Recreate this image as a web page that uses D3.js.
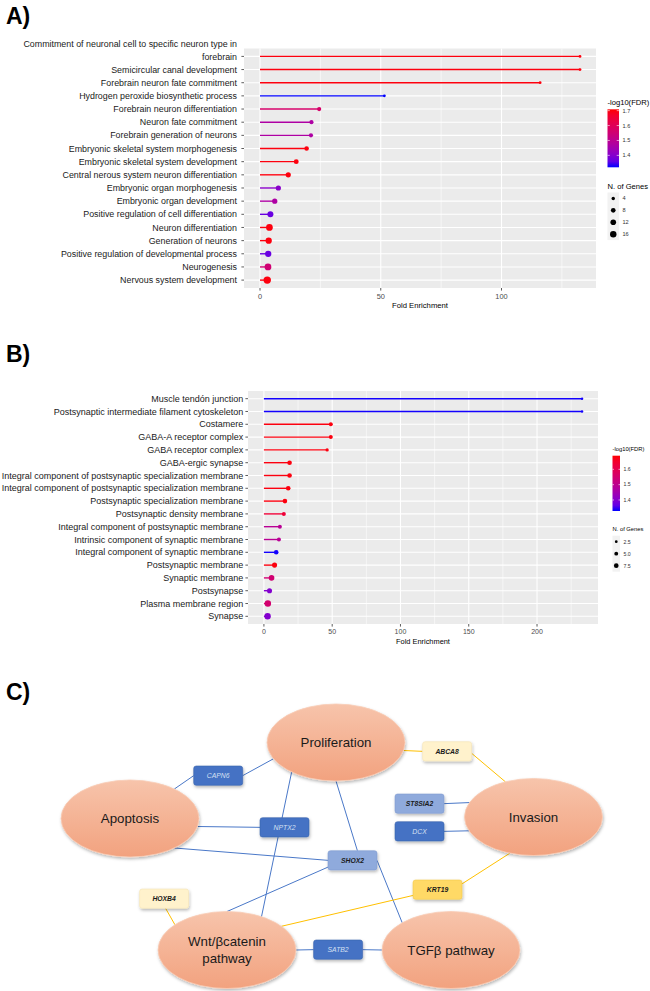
<!DOCTYPE html>
<html><head><meta charset="utf-8">
<script src="https://cdn.jsdelivr.net/npm/d3@7"></script>
<style>body{margin:0;background:#fff} svg{display:block}</style>
</head><body>
<svg id="fig" width="650" height="991"></svg>
<script>
// ---------------- DATA ----------------
const categoriesA = [
  "Commitment of neuronal cell to specific neuron type in\nforebrain",
  "Semicircular canal development",
  "Forebrain neuron fate commitment",
  "Hydrogen peroxide biosynthetic process",
  "Forebrain neuron differentiation",
  "Neuron fate commitment",
  "Forebrain generation of neurons",
  "Embryonic skeletal system morphogenesis",
  "Embryonic skeletal system development",
  "Central nerous system neuron differentiation",
  "Embryonic organ morphogenesis",
  "Embryonic organ development",
  "Positive regulation of cell differentiation",
  "Neuron differentiation",
  "Generation of neurons",
  "Positive regulation of developmental process",
  "Neurogenesis",
  "Nervous system development"
];
const foldA  = [132.5, 132.5, 116, 51.5, 24.5, 21.3, 21.1, 19.3, 15, 11.7, 7.6, 6.1, 4.3, 3.9, 3.6, 3.4, 3.3, 3.0];
const fdrA   = [1.70, 1.70, 1.70, 1.32, 1.57, 1.47, 1.47, 1.70, 1.70, 1.70, 1.405, 1.47, 1.367, 1.70, 1.70, 1.367, 1.553, 1.70];
const genesA = [2, 2, 2, 2, 5, 5, 5, 6, 7, 8, 8, 8, 11, 14, 12, 12, 14, 17];
const xTicksA = [0, 50, 100];
const colorTicksA = [1.4, 1.5, 1.6, 1.7];
const sizeTicksA = [4, 8, 12, 16];

const categoriesB = [
  "Muscle tendón junction",
  "Postsynaptic intermediate filament cytoskeleton",
  "Costamere",
  "GABA-A receptor complex",
  "GABA receptor complex",
  "GABA-ergic synapse",
  "Integral component of postsynaptic specialization membrane",
  "Integral component of postsynaptic specialization membrane",
  "Postsynaptic specialization membrane",
  "Postsynaptic density membrane",
  "Integral component of postsynaptic membrane",
  "Intrinsic component of synaptic membrane",
  "Integral component of synaptic membrane",
  "Postsynaptic membrane",
  "Synaptic membrane",
  "Postsynapse",
  "Plasma membrane region",
  "Synapse"
];
const foldB  = [233, 233, 49, 49, 46.3, 18.8, 18.8, 17.8, 15.4, 14.6, 11.7, 11, 9, 7.8, 5.6, 4.1, 2.9, 2.7];
const fdrB   = [1.33, 1.33, 1.68, 1.68, 1.68, 1.68, 1.68, 1.68, 1.68, 1.635, 1.49, 1.49, 1.33, 1.68, 1.545, 1.40, 1.55, 1.40];
const genesB = [1, 1, 3, 3, 2, 4, 4, 4, 4, 3, 3, 3, 4, 5, 6, 5, 8, 8];
const xTicksB = [0, 50, 100, 150, 200];
const colorTicksB = [1.4, 1.5, 1.6];
const sizeTicksB = [2.5, 5.0, 7.5];

// Panel C network
const pathways = ["Proliferation", "Apoptosis", "Invasion", "Wnt/βcatenin\npathway", "TGFβ pathway"];
const genesC = ["CAPN6", "ABCA8", "ST8SIA2", "DCX", "NPTX2", "SHOX2", "KRT19", "HOXB4", "SATB2"];
const geneStyle = ["blue", "pale", "light", "blue", "blue", "light", "gold", "pale", "blue"];
// links: [source, target, colour]
const linksC = [
  ["CAPN6", "Proliferation", "blue"],
  ["Apoptosis", "CAPN6", "blue"],
  ["Apoptosis", "NPTX2", "blue"],
  ["Proliferation", "Wnt/βcatenin\npathway", "blue"],
  ["Apoptosis", "SHOX2", "blue"],
  ["SHOX2", "Wnt/βcatenin\npathway", "blue"],
  ["Proliferation", "SHOX2", "blue"],
  ["SHOX2", "TGFβ pathway", "blue"],
  ["ST8SIA2", "Invasion", "blue"],
  ["DCX", "Invasion", "blue"],
  ["Wnt/βcatenin\npathway", "SATB2", "blue"],
  ["SATB2", "TGFβ pathway", "blue"],
  ["Proliferation", "ABCA8", "gold"],
  ["ABCA8", "Invasion", "gold"],
  ["Invasion", "KRT19", "gold"],
  ["KRT19", "Wnt/βcatenin\npathway", "gold"],
  ["HOXB4", "Wnt/βcatenin\npathway", "gold"]
];

// ---------------- LAYOUT (positions only) ----------------
const pathwayPos = {
  "Proliferation": [336, 742.5],
  "Apoptosis": [130, 818.5],
  "Invasion": [533.5, 817],
  "Wnt/βcatenin\npathway": [227, 950],
  "TGFβ pathway": [451, 950]
};
const genePos = {
  "CAPN6": [193.7, 766], "ABCA8": [422.6, 741.7], "ST8SIA2": [395, 794], "DCX": [395, 821.7],
  "NPTX2": [260, 817.7], "SHOX2": [328, 850.7], "KRT19": [413, 880], "HOXB4": [139.6, 889], "SATB2": [313.6, 940]
};
// anchors: ellipse -> angle (deg), box -> [fx, fy]
const linkAnchors = [
  [[1, .5], 155], [-50, [0, .5]], [12, [0, .5]], [130, -60], [50, [0, .5]], [[0, .85], -90],
  [90, [.6, 0]], [[1, .5], -135], [[1, .5], -158], [[1, .5], 159], [0, [0, .5]], [[1, .5], 180],
  [12, [0, .5]], [[1, .6], -114], [110, [1, .2]], [[0, .8], -38], [[.53, 1], -139]
];

// ---------------- DRAW ----------------
const FONT = "'Liberation Sans', Arial, Helvetica, sans-serif";
const svg = d3.select("#fig").style("font-family", FONT);
const defs = svg.append("defs");

// Panel letters
[["A)", 24], ["B)", 362], ["C)", 700]].forEach(([t, y]) => {
  svg.append("text").attr("x", 6).attr("y", y).attr("font-size", 23).attr("font-weight", "bold").text(t);
});

function lollipop(o) {
  const n = o.cats.length;
  const maxV = d3.max(o.fold);
  const x = d3.scaleLinear().domain([-maxV * 0.05, maxV * 1.05]).range([o.l, o.r]);
  const y = d3.scalePoint().domain(d3.range(n)).range([o.t, o.b]).padding(0.6);
  const color = d3.scaleLinear().domain(o.colorDomain).range(["#0000ff", "#ff0000"]).interpolate(d3.interpolateLab).clamp(true);
  const size = d3.scaleSqrt().domain(o.sizeDomain).range(o.sizeRange);
  const g = svg.append("g");
  g.append("rect").attr("x", o.l).attr("y", o.t).attr("width", o.r - o.l).attr("height", o.b - o.t).attr("fill", "#ebebeb");
  const majors = o.xTicks;
  const minors = d3.range(25, maxV * 1.05, 50);
  g.selectAll(".minor").data(minors).join("line")
    .attr("x1", d => x(d)).attr("x2", d => x(d)).attr("y1", o.t).attr("y2", o.b)
    .attr("stroke", "#fff").attr("stroke-width", 0.55);
  g.selectAll(".majorx").data(majors).join("line")
    .attr("x1", d => x(d)).attr("x2", d => x(d)).attr("y1", o.t).attr("y2", o.b)
    .attr("stroke", "#fff").attr("stroke-width", 1.1);
  g.selectAll(".majory").data(d3.range(n)).join("line")
    .attr("x1", o.l).attr("x2", o.r).attr("y1", d => y(d)).attr("y2", d => y(d))
    .attr("stroke", "#fff").attr("stroke-width", 1.1);
  g.selectAll(".stem").data(d3.range(n)).join("line")
    .attr("x1", x(0)).attr("x2", i => x(o.fold[i])).attr("y1", i => y(i)).attr("y2", i => y(i))
    .attr("stroke", i => color(o.fdr[i])).attr("stroke-width", 1.4);
  g.selectAll(".pt").data(d3.range(n)).join("circle")
    .attr("cx", i => x(o.fold[i])).attr("cy", i => y(i)).attr("r", i => size(o.genes[i]))
    .attr("fill", i => color(o.fdr[i]));
  d3.range(n).forEach(i => {
    const lines = o.cats[i].split("\n");
    lines.forEach((ln, k) => {
      g.append("text").attr("x", o.labelX).attr("y", y(i) - (lines.length - 1 - k) * 12.3)
        .attr("dy", "0.35em").attr("text-anchor", "end").attr("font-size", o.labelSize).attr("fill", "#1a1a1a").text(ln);
    });
    g.append("line").attr("x1", o.l - 2.6).attr("x2", o.l).attr("y1", y(i)).attr("y2", y(i))
      .attr("stroke", "#333").attr("stroke-width", 0.8);
  });
  majors.forEach(v => {
    g.append("line").attr("x1", x(v)).attr("x2", x(v)).attr("y1", o.b).attr("y2", o.b + 2.6).attr("stroke", "#333").attr("stroke-width", 0.8);
    g.append("text").attr("x", x(v)).attr("y", o.b + 8).attr("dy", "0.35em").attr("text-anchor", "middle")
      .attr("font-size", o.tickSize).attr("fill", "#4d4d4d").text(v);
  });
  g.append("text").attr("x", (o.l + o.r) / 2).attr("y", o.b + 17).attr("dy", "0.35em").attr("text-anchor", "middle")
    .attr("font-size", o.axisTitleSize).attr("fill", "#000").text("Fold Enrichment");

  const L = o.legend;
  g.append("text").attr("x", L.x).attr("y", L.titleY).attr("font-size", L.titleSize).text("-log10(FDR)");
  const gid = "grad" + o.id;
  const grad = defs.append("linearGradient").attr("id", gid).attr("x1", 0).attr("x2", 0).attr("y1", 1).attr("y2", 0);
  d3.range(0, 1.0001, 0.1).forEach(t => {
    const v = o.colorDomain[0] + t * (o.colorDomain[1] - o.colorDomain[0]);
    grad.append("stop").attr("offset", t).attr("stop-color", color(v));
  });
  const cb = d3.scaleLinear().domain(o.colorDomain).range([L.barBottom, L.barTop]);
  g.append("rect").attr("x", L.x).attr("y", L.barTop).attr("width", L.barW).attr("height", L.barBottom - L.barTop)
    .attr("fill", `url(#${gid})`);
  o.colorTicks.forEach(v => {
    g.append("line").attr("x1", L.x).attr("x2", L.x + L.barW * 0.2).attr("y1", cb(v)).attr("y2", cb(v)).attr("stroke", "#fff").attr("stroke-width", 0.6);
    g.append("line").attr("x1", L.x + L.barW * 0.8).attr("x2", L.x + L.barW).attr("y1", cb(v)).attr("y2", cb(v)).attr("stroke", "#fff").attr("stroke-width", 0.6);
    g.append("text").attr("x", L.x + L.barW + 3.5).attr("y", cb(v)).attr("dy", "0.35em").attr("font-size", L.labelSize).attr("fill", "#333").text(v.toFixed(1));
  });
  g.append("text").attr("x", L.x).attr("y", L.sizeTitleY).attr("font-size", L.titleSize).text("N. of Genes");
  const ks = L.keyStep;
  g.append("rect").attr("x", L.x).attr("y", L.keyTop).attr("width", L.barW).attr("height", ks * o.sizeTicks.length).attr("fill", "#f2f2f2");
  o.sizeTicks.forEach((v, k) => {
    const cy = L.keyTop + ks * (k + 0.5);
    g.append("circle").attr("cx", L.x + L.barW / 2).attr("cy", cy).attr("r", size(v) * L.keyScale).attr("fill", "#000");
    g.append("text").attr("x", L.x + L.barW + 3.5).attr("y", cy).attr("dy", "0.35em").attr("font-size", L.labelSize).attr("fill", "#333")
      .text(o.id === "A" ? v : v.toFixed(1));
  });
}

lollipop({
  id: "A", cats: categoriesA, fold: foldA, fdr: fdrA, genes: genesA, xTicks: xTicksA,
  l: 244, r: 596, t: 48.5, b: 288, labelX: 237, labelSize: 8.9, tickSize: 7.4, axisTitleSize: 7.7,
  colorDomain: [1.32, 1.709], colorTicks: colorTicksA, sizeDomain: [2, 17], sizeRange: [1.4, 3.7], sizeTicks: sizeTicksA,
  legend: { x: 607.5, titleY: 104.5, titleSize: 7.6, barTop: 109.3, barBottom: 167.3, barW: 11.5, labelSize: 5.6,
    sizeTitleY: 188.5, keyTop: 192.5, keyStep: 11.9, keyScale: 0.9 }
});
lollipop({
  id: "B", cats: categoriesB, fold: foldB, fdr: fdrB, genes: genesB, xTicks: xTicksB,
  l: 248, r: 598, t: 391, b: 624, labelX: 243.3, labelSize: 9, tickSize: 7, axisTitleSize: 7.4,
  colorDomain: [1.328, 1.689], colorTicks: colorTicksB, sizeDomain: [1, 9], sizeRange: [1.2, 3.4], sizeTicks: sizeTicksB,
  legend: { x: 612.5, titleY: 451, titleSize: 5.8, barTop: 455.7, barBottom: 511, barW: 7.5, labelSize: 5.2,
    sizeTitleY: 530.5, keyTop: 535.7, keyStep: 12, keyScale: 0.75 }
});

// ---------------- PANEL C ----------------
const RX = 69, RY = 38.5, BW = 49, BH = 19.3;
const ellGrad = defs.append("linearGradient").attr("id", "ellg").attr("x1", 0).attr("x2", 0).attr("y1", 0).attr("y2", 1);
ellGrad.append("stop").attr("offset", 0).attr("stop-color", "#f7c4ab");
ellGrad.append("stop").attr("offset", 1).attr("stop-color", "#f2a27f");
const shadow = defs.append("filter").attr("id", "shd").attr("x", -0.2).attr("y", -0.2).attr("width", 1.4).attr("height", 1.5);
shadow.append("feDropShadow").attr("dx", 0.8).attr("dy", 1.8).attr("stdDeviation", 1.4).attr("flood-color", "#000").attr("flood-opacity", 0.28);

function anchorPoint(name, a) {
  if (pathwayPos[name]) {
    const [cx, cy] = pathwayPos[name];
    const t = a * Math.PI / 180;
    return [cx + RX * Math.cos(t), cy + RY * Math.sin(t)];
  }
  const [bx, by] = genePos[name];
  return [bx + a[0] * BW, by + a[1] * BH];
}
const linkColor = { blue: "#4a78c8", gold: "#ffc000" };
const gc = svg.append("g");
gc.selectAll(".lk").data(linksC).join("line")
  .attr("x1", (d, i) => anchorPoint(d[0], linkAnchors[i][0])[0])
  .attr("y1", (d, i) => anchorPoint(d[0], linkAnchors[i][0])[1])
  .attr("x2", (d, i) => anchorPoint(d[1], linkAnchors[i][1])[0])
  .attr("y2", (d, i) => anchorPoint(d[1], linkAnchors[i][1])[1])
  .attr("stroke", d => linkColor[d[2]]).attr("stroke-width", 1);

const eg = gc.selectAll(".pw").data(pathways).join("g");
eg.append("ellipse").attr("cx", d => pathwayPos[d][0]).attr("cy", d => pathwayPos[d][1]).attr("rx", RX).attr("ry", RY)
  .attr("fill", "url(#ellg)").attr("stroke", "#f9cdb6").attr("stroke-width", 0.8).attr("filter", "url(#shd)");
eg.each(function (d) {
  const lines = d.split("\n");
  const [cx, cy] = pathwayPos[d];
  lines.forEach((ln, k) => {
    d3.select(this).append("text").attr("x", cx).attr("y", cy + (k - (lines.length - 1) / 2) * 16.5)
      .attr("dy", "0.35em").attr("text-anchor", "middle").attr("font-size", 13.3).attr("fill", "#1a1a1a").text(ln);
  });
});

const boxFill = { blue: "#4472c4", light: "#8faadc", pale: "#fff2cc", gold: "#ffd966" };
const boxStroke = { blue: "#3c64ad", light: "#7f9bd0", pale: "#f5e4b5", gold: "#f2c94c" };
const boxText = { blue: "#d6e0f3", light: "#1a1a1a", pale: "#1a1a1a", gold: "#1a1a1a" };
const bg = gc.selectAll(".gn").data(genesC).join("g");
bg.append("rect").attr("x", d => genePos[d][0]).attr("y", d => genePos[d][1]).attr("width", BW).attr("height", BH)
  .attr("rx", 2.5).attr("fill", (d, i) => boxFill[geneStyle[i]]).attr("stroke", (d, i) => boxStroke[geneStyle[i]]).attr("stroke-width", 0.6)
  .attr("filter", "url(#shd)");
bg.append("text").attr("x", d => genePos[d][0] + BW / 2).attr("y", d => genePos[d][1] + BH / 2).attr("dy", "0.35em")
  .attr("text-anchor", "middle").attr("font-size", 6.8).attr("font-style", "italic")
  .attr("font-weight", (d, i) => geneStyle[i] === "blue" ? "normal" : "bold")
  .attr("fill", (d, i) => boxText[geneStyle[i]]).text(d => d);
</script>
</body></html>
